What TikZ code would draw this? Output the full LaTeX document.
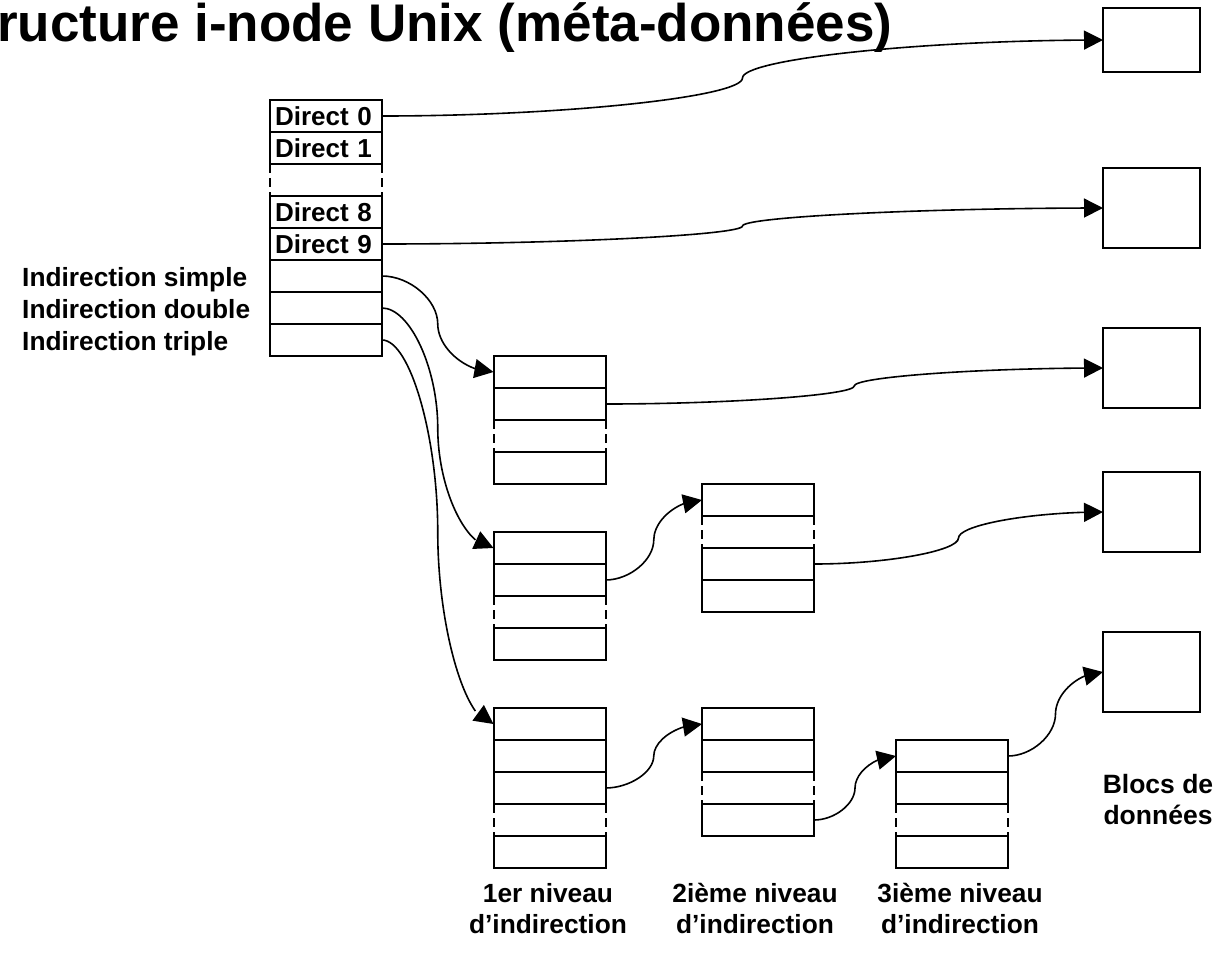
\documentclass[tikz,border=0pt]{standalone}
\usepackage{fontspec}
\setmainfont{Liberation Sans}
\usetikzlibrary{arrows.meta,bending,calc}

\tikzset{
  cell/.style={draw, line width=2pt, minimum width=112pt, minimum height=32pt, inner sep=0pt, outer sep=0pt},
  gap/.style={cell, draw=none},
  icell/.style={cell, text width=102pt, inner xsep=5pt, align=left, font=\bfseries\fontsize{26}{30}\selectfont},
  dashside/.style={line width=2pt, dash pattern=on 9pt off 5pt},
  datab/.style={draw, line width=2pt, minimum width=97pt, minimum height=80pt, inner sep=0pt, outer sep=0pt},
  link/.style={line width=1.6pt, -{Triangle[length=19pt,width=19pt,flex]}},
  lbl/.style={font=\bfseries\fontsize{26.3}{31}\selectfont, inner sep=0pt, align=center},
}

\newcommand{\blk}[4]{%
  \foreach \st [count=\i] in {#4}
    \node[\st] (#1\i) at (#2, {#3+32*\i-16}) {};
}
\newcommand{\conn}[2]{%
  \draw[link] let \p1=(#1), \p2=(#2) in
    (\p1) .. controls ({0.75*\x1+0.25*\x2},\y1) and ({0.5*\x1+0.5*\x2},{0.75*\y1+0.25*\y2})
    .. ({0.5*\x1+0.5*\x2},{0.5*\y1+0.5*\y2})
    .. controls ({0.5*\x1+0.5*\x2},{0.25*\y1+0.75*\y2}) and ({0.25*\x1+0.75*\x2},\y2) .. (\p2);
}

\begin{document}
\begin{tikzpicture}[x=1pt, y=-1pt]
    \useasboundingbox (0,0) rectangle (1216,956);
    \node[anchor=base west, inner sep=0pt, font=\bfseries\fontsize{53}{60}\selectfont] (titre) at (-3,41) {ructure i-node Unix (méta-données)};

    % i-node
    \foreach \st/\txt [count=\i] in {icell/Direct 0, icell/Direct 1, gap/{}, icell/Direct 8, icell/Direct 9, icell/{}, icell/{}, icell/{}}
      \node[\st] (ino\i) at (326, {100+32*\i-16}) {\txt};
    \node[lbl, anchor=north west, align=left, font=\bfseries\fontsize{26.3}{32}\selectfont] (ind) at (22,267) {Indirection simple\\Indirection double\\Indirection triple};

    % blocs d'indirection
    \blk{a}{549.5}{356}{cell,cell,gap,cell}
    \blk{b}{549.5}{532}{cell,cell,gap,cell}
    \blk{c}{549.5}{708}{cell,cell,cell,gap,cell}
    \blk{bb}{758}{484}{cell,gap,cell,cell}
    \blk{cb}{758}{708}{cell,cell,gap,cell}
    \blk{cc}{952}{740}{cell,cell,gap,cell}
    \foreach \g in {ino3,a3,b3,c4,bb2,cb3,cc3}
      \draw[dashside] (\g.north west) -- (\g.south west) (\g.north east) -- (\g.south east);

    % blocs de donnees
    \node[datab, minimum height=64pt] (d1) at (1151.5,40) {};
    \node[datab] (d2) at (1151.5,208) {};
    \node[datab] (d3) at (1151.5,368) {};
    \node[datab] (d4) at (1151.5,512) {};
    \node[datab] (d5) at (1151.5,672) {};

    \conn{ino1.east}{d1.west}
    \conn{ino5.east}{d2.west}
    \conn{ino6.east}{a1.west}
    \conn{ino7.east}{b1.west}
    \conn{ino8.east}{c1.west}
    \conn{a2.east}{d3.west}
    \conn{b2.east}{bb1.west}
    \conn{bb3.east}{d4.west}
    \conn{c3.east}{cb1.west}
    \conn{cb4.east}{cc1.west}
    \conn{cc1.east}{d5.west}

    \node[lbl, anchor=north] (niv1) at (548,883) {1er niveau\\d’indirection};
    \node[lbl, anchor=north] (niv2) at (755,883) {2ième niveau\\d’indirection};
    \node[lbl, anchor=north] (niv3) at (960,883) {3ième niveau\\d’indirection};
    \node[lbl, anchor=north, font=\bfseries\fontsize{26.5}{31}\selectfont] (blocs) at (1158,774) {Blocs de\\données};
\end{tikzpicture}
\end{document}
